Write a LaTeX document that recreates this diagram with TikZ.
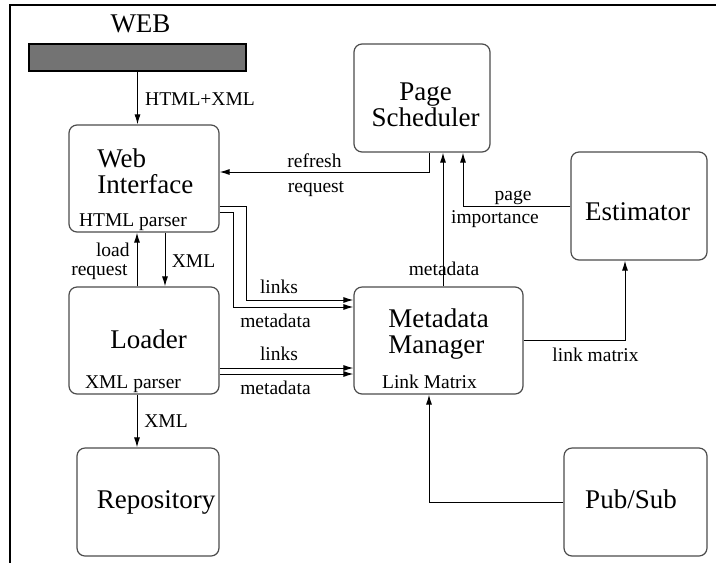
\documentclass[tikz,border=0pt]{standalone}
\usepackage{fontspec}
\setmainfont{Liberation Serif}
\usetikzlibrary{arrows.meta,positioning}
\newcommand{\bigfont}{\fontsize{13.5}{13}\selectfont}
\newcommand{\smallfont}{\fontsize{9.75}{11}\selectfont}
\tikzstyle{block} = [rectangle, rounded corners=4pt, draw=black!70, line width=0.6pt]
\tikzstyle{title} = [inner sep=0pt, anchor=base, font=\bigfont]
\tikzstyle{lbl} = [inner sep=0pt, anchor=base, font=\smallfont]
\tikzstyle{arrow} = [line width=0.5pt, -{Latex[length=5pt,width=3pt]}]

\begin{document}
\begin{tikzpicture}[x=0.5pt, y=-0.5pt]
        \useasboundingbox (0,0) rectangle (716,563);
        \draw[line width=1pt] (716,5) -- (10,5) -- (10,563);
        
        % the web
        \node (web) [title] at (140.5,32) {WEB};
        \node (bar) [rectangle, draw=black, fill=black!55, line width=0.6pt, minimum width=108.5pt, minimum height=13.5pt, inner sep=0pt] at (137.5,57.5) {};
        
        % boxes
        \node (webif) [block, minimum width=75pt, minimum height=53.5pt] at (144,178.5) {};
        \node (loader) [block, minimum width=75pt, minimum height=53.5pt] at (144,340.5) {};
        \node (repo) [block, minimum width=71pt, minimum height=54pt] at (148,502) {};
        \node (sched) [block, minimum width=68pt, minimum height=54pt] at (422,98) {};
        \node (est) [block, minimum width=68pt, minimum height=54pt] at (639,206) {};
        \node (meta) [block, minimum width=84.5pt, minimum height=53.5pt] at (438.5,340.5) {};
        \node (pub) [block, minimum width=71.5pt, minimum height=54pt] at (635.5,502) {};
        
        % box texts (base = last line)
        \node (webif-t) [title, anchor=base west, align=left] at (97,193) {Web\\Interface};
        \node (webif-p) [lbl] at (133,226) {HTML parser};
        \node (loader-t) [title] at (148.5,348) {Loader};
        \node (loader-p) [lbl] at (133,388) {XML parser};
        \node (repo-t) [title] at (156,508) {Repository};
        \node (sched-t) [title, align=center] at (425.5,126) {Page\\Scheduler};
        \node (est-t) [title] at (637.5,220) {Estimator};
        \node (meta-t) [title, anchor=base west, align=left] at (388,353) {Metadata\\Manager};
        \node (meta-p) [lbl] at (429.5,388) {Link Matrix};
        \node (pub-t) [title] at (631,508) {Pub/Sub};
        
        % connectors
        \draw[arrow] (bar.south) -- (bar.south |- webif.north);
        \draw[arrow] ([xshift=3.5pt]sched.south) |- ([yshift=3.25pt]webif.east);
        \draw[arrow] (est.west) -| ([xshift=20.5pt]sched.south);
        \draw[arrow] ([xshift=2.25pt]meta.north) -- ([xshift=2.25pt]meta.north |- sched.south);
        \draw[arrow] (meta.east) -| ([xshift=-7pt]est.south);
        \draw[arrow] (pub.west) -| ([xshift=-4.75pt]meta.south);
        \draw[arrow] ([xshift=-3.5pt]loader.south) -- ([xshift=-3.5pt]loader.south |- repo.north);
        \draw[arrow] ([xshift=-3.5pt]loader.north) -- ([xshift=-3.5pt]webif.south);
        \draw[arrow] ([xshift=10.5pt]webif.south) -- ([xshift=10.5pt]loader.north);
        \draw[arrow] ([yshift=-13.75pt]webif.east) -- ++(13.5pt,0) |- ([yshift=20.25pt]meta.west);
        \draw[arrow] ([yshift=-16.75pt]webif.east) -- ++(7pt,0) |- ([yshift=16.75pt]meta.west);
        \draw[arrow] ([yshift=-13.75pt]loader.east) -- ([yshift=-13.75pt]meta.west);
        \draw[arrow] ([yshift=-16.75pt]loader.east) -- ([yshift=-16.75pt]meta.west);
        
        % connector labels
        \node (l-html) [lbl] at (200,105) {HTML+XML};
        \node (l-refresh) [lbl] at (314.5,167) {refresh};
        \node (l-request) [lbl] at (316,192) {request};
        \node (l-load) [lbl, anchor=base east] at (130,256) {load};
        \node (l-loadreq) [lbl, anchor=base east] at (128,275) {request};
        \node (l-xml1) [lbl] at (193.5,267) {XML};
        \node (l-page) [lbl] at (513,200) {page};
        \node (l-imp) [lbl] at (495,223) {importance};
        \node (l-meta) [lbl] at (444,275) {metadata};
        \node (l-links1) [lbl] at (279,293) {links};
        \node (l-meta1) [lbl] at (275.5,327) {metadata};
        \node (l-links2) [lbl] at (279,360) {links};
        \node (l-meta2) [lbl] at (275.5,394) {metadata};
        \node (l-xml2) [lbl] at (166,427) {XML};
        \node (l-matrix) [lbl] at (595.5,361) {link matrix};
        
\end{tikzpicture}
\end{document}
